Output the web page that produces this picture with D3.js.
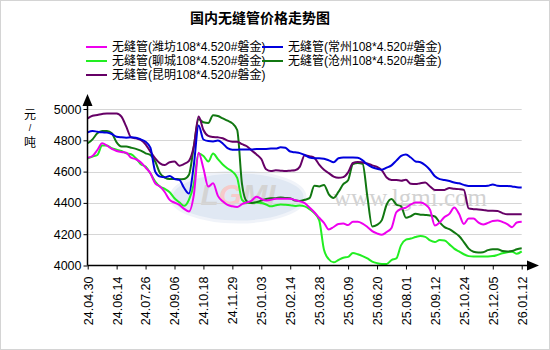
<!DOCTYPE html>
<html><head><meta charset="utf-8">
<script src="https://cdn.jsdelivr.net/npm/d3@7"></script>
<style>
body{margin:0;background:#fff}
svg{display:block}
text{font-family:"Liberation Sans",Arial,"Noto Sans CJK SC",sans-serif}
</style>
</head><body>
<svg id="chart" width="550" height="350"></svg>
<script>
const chartTitle = "国内无缝管价格走势图";
const yUnit = ["元", "/", "吨"];
const tickLabels = ["24.04.30","24.06.14","24.07.26","24.09.06","24.10.18","24.11.29","25.01.03","25.02.14","25.03.28","25.05.09","25.06.20","25.08.01","25.09.12","25.10.24","25.12.05","26.01.12"];
const pointsPerTick = 6;
const yTicks = [4000, 4200, 4400, 4600, 4800, 5000];

const seriesNames = ["无缝管(潍坊108*4.520#磐金)","无缝管(常州108*4.520#磐金)","无缝管(聊城108*4.520#磐金)","无缝管(沧州108*4.520#磐金)","无缝管(昆明108*4.520#磐金)"];
const seriesColors = ["#ee00ee","#0000dd","#22ee22","#117711","#660066"];

const weifang = [4689,4700,4738,4781,4766,4745,4732,4725,4721,4689,4679,4660,4626,4589,4525,4504,4468,4419,4402,4387,4362,4345,4450,4720,
 4620,4504,4525,4445,4410,4387,4378,4374,4392,4403,4415,4440,4425,4415,4420,4426,4426,4426,4426,4418,4410,
 4398,4370,4340,4305,4272,4230,4246,4265,4268,4258,4280,4280,4268,4246,4220,4205,4196,4214,4240,4340,4362,4370,4390,4402,4402,4390,4355,4255,4275,4310,4330,4370,4330,4265,4300,4300,4275,4262,4272,4285,4288,4278,4265,4245,4275,4280];
const changzhou = [4851,4860,4855,4851,4849,4840,4823,4819,4817,4819,4817,4806,4791,4753,4600,4568,4564,4572,4553,4547,4495,4460,4640,4895,
 4805,4795,4793,4798,4780,4750,4740,4740,4742,4742,4742,4745,4745,4745,4747,4747,4755,4752,4728,4723,4718,
 4706,4690,4685,4686,4682,4672,4660,4685,4690,4690,4690,4688,4672,4645,4628,4618,4612,4625,4640,4670,4700,4710,4690,4665,4660,4640,4610,4570,4552,4547,4540,4530,4525,4515,4508,4508,4508,4508,4510,4518,4510,4508,4508,4505,4500,4498];
const liaocheng = [4685,4696,4706,4766,4766,4749,4740,4732,4717,4711,4685,4647,4632,4589,4536,4504,4489,4468,4430,4404,4381,4420,4520,4715,
 4700,4665,4715,4680,4645,4620,4600,4560,4420,4400,4400,4402,4400,4390,4378,4385,4390,4388,4385,4380,4383,
 4378,4360,4335,4290,4100,4040,4020,4035,4050,4055,4080,4072,4060,4045,4025,4015,4010,4010,4035,4045,4130,4165,4172,4182,4188,4183,4160,4150,4163,4160,4135,4108,4090,4072,4060,4057,4057,4058,4058,4060,4068,4078,4085,4088,4075,4090];
const cangzhou = [4781,4806,4845,4860,4860,4845,4787,4760,4760,4753,4745,4734,4717,4706,4664,4589,4562,4553,4553,4551,4553,4580,4760,4935,
 4915,4910,4960,4955,4940,4925,4908,4866,4520,4410,4400,4405,4415,4425,4430,4430,4435,4432,4430,4415,4412,
 4420,4430,4510,4505,4515,4455,4432,4470,4520,4545,4648,4655,4650,4440,4250,4260,4290,4390,4425,4390,4378,4305,4315,4330,4325,4323,4320,4313,4275,4245,4232,4212,4188,4150,4108,4088,4083,4085,4098,4104,4104,4092,4089,4092,4104,4110];
const kunming = [4940,4957,4962,4968,4972,4972,4972,4951,4887,4819,4813,4802,4774,4728,4685,4653,4642,4660,4664,4638,4649,4668,4760,4952,
 4866,4828,4821,4819,4813,4798,4791,4791,4775,4762,4735,4710,4680,4615,4604,4608,4606,4604,4606,4608,4632,
 4705,4698,4688,4645,4612,4590,4568,4560,4565,4595,4655,4662,4658,4652,4640,4630,4608,4562,4547,4546,4542,4548,4522,4520,4526,4530,4505,4483,4483,4483,4495,4490,4488,4483,4365,4360,4358,4355,4350,4350,4348,4335,4327,4327,4327,4327];

const seriesData = [weifang, changzhou, liaocheng, cangzhou, kunming];
const drawOrder = [2, 3, 4, 1, 0];

const svg = d3.select("#chart");
const W = 550, H = 350;
const m = {left: 87.5, right: 521.7, top: 109, bottom: 265.5};

svg.append("rect").attr("x",0.5).attr("y",0.5).attr("width",W-1).attr("height",H-1)
  .attr("fill","#fff").attr("stroke","#d4d4d4");

const N = weifang.length;
const x = d3.scaleLinear().domain([0, N-1]).range([m.left + 0.2, m.right]);
const y = d3.scaleLinear().domain([4000, 5000]).range([m.bottom, m.top]);

// title
svg.append("text").attr("x",260).attr("y",23).attr("text-anchor","middle")
  .attr("font-size",14).attr("font-weight","bold")
  .style("font-family",'"Noto Sans CJK SC",sans-serif').text(chartTitle);

// legend
const legendPos = [[86,47],[262,47],[86,61],[262,61],[86,75]];
seriesNames.forEach((name,i)=>{
  const [lx,ly] = legendPos[i];
  svg.append("line").attr("x1",lx).attr("x2",lx+21).attr("y1",ly).attr("y2",ly)
    .attr("stroke",seriesColors[i]).attr("stroke-width",2);
  svg.append("text").attr("x",lx+26).attr("y",ly).attr("dy","0.36em")
    .attr("font-size",12).text(name);
});

// watermark
const wm = svg.append("g").attr("opacity",0.55);
wm.append("ellipse").attr("cx",238).attr("cy",197).attr("rx",67).attr("ry",25)
  .attr("fill","#c8d6ea").attr("stroke","#e4ebf5").attr("stroke-width",3);
wm.append("text").attr("x",238).attr("y",205).attr("text-anchor","middle")
  .attr("font-size",30).attr("font-weight","bold").attr("font-style","italic")
  .attr("fill","#b0b0b0").html('L<tspan fill="#f0a0a0">G</tspan>MI');
svg.append("text").attr("x",410).attr("y",206).attr("text-anchor","middle")
  .attr("font-size",25).attr("fill","#c8c8c8").attr("opacity",0.8)
  .style("font-family",'"Liberation Serif","DejaVu Serif",serif').text("www.lgmi.com");

// gridlines
svg.append("g").selectAll("line").data(yTicks.filter(v=>v>4000)).join("line")
  .attr("x1",m.left).attr("x2",m.right)
  .attr("y1",d=>Math.round(y(d))+0.5).attr("y2",d=>Math.round(y(d))+0.5)
  .attr("stroke","#d6d6d6").attr("stroke-width",1);

// y axis
const yAxis = svg.append("g").attr("transform",`translate(${m.left},0)`)
  .call(d3.axisLeft(y).tickValues(yTicks).tickSize(4).tickPadding(2).tickFormat(d3.format("d")));
yAxis.select(".domain").remove();
yAxis.selectAll("text").attr("font-size",12.5).attr("fill","#000");

// x axis
const tickIdx = tickLabels.map((_,i)=>i*pointsPerTick);
const xAxis = svg.append("g").attr("transform",`translate(0,${m.bottom})`)
  .call(d3.axisBottom(x).tickValues(tickIdx).tickSize(4).tickFormat((d,i)=>tickLabels[i]));
xAxis.select(".domain").remove();
xAxis.selectAll("text").attr("font-size",12.5).attr("fill","#000")
  .attr("transform","rotate(-90)").attr("x",-11).attr("y",0).attr("dy","0.35em")
  .style("text-anchor","end");

// series lines
const line = d3.line().x((d,i)=>x(i)).y(d=>y(d)).curve(d3.curveMonotoneX);
drawOrder.forEach(k=>{
  svg.append("path").datum(seriesData[k]).attr("fill","none")
    .attr("stroke",seriesColors[k]).attr("stroke-width",2)
    .attr("stroke-linejoin","round").attr("d",line);
});

// axis lines with arrows
svg.append("line").attr("x1",m.left).attr("x2",m.left).attr("y1",m.bottom).attr("y2",104)
  .attr("stroke","#000").attr("stroke-width",1.5);
svg.append("path").attr("d",`M${m.left-5},106 L${m.left},94 L${m.left+5},106 Z`).attr("fill","#000");
svg.append("line").attr("x1",m.left).attr("x2",530).attr("y1",m.bottom).attr("y2",m.bottom)
  .attr("stroke","#000").attr("stroke-width",1.5);
svg.append("path").attr("d",`M527,${m.bottom-5} L539,${m.bottom} L527,${m.bottom+5} Z`).attr("fill","#000");

// y unit label
const unitY = [115, 128, 143];
const unitSize = [12, 9, 12];
yUnit.forEach((t,i)=>{
  const tx = svg.append("text").attr("x",30).attr("y",unitY[i]).attr("dy","0.36em")
    .attr("text-anchor","middle").attr("font-size",unitSize[i]).attr("fill","#000")
    .style("font-family",'"Noto Sans CJK SC",sans-serif').text(t);
  if (t === "/") tx.style("font-family",'"Liberation Sans",Arial,sans-serif');
});
</script>
</body></html>
